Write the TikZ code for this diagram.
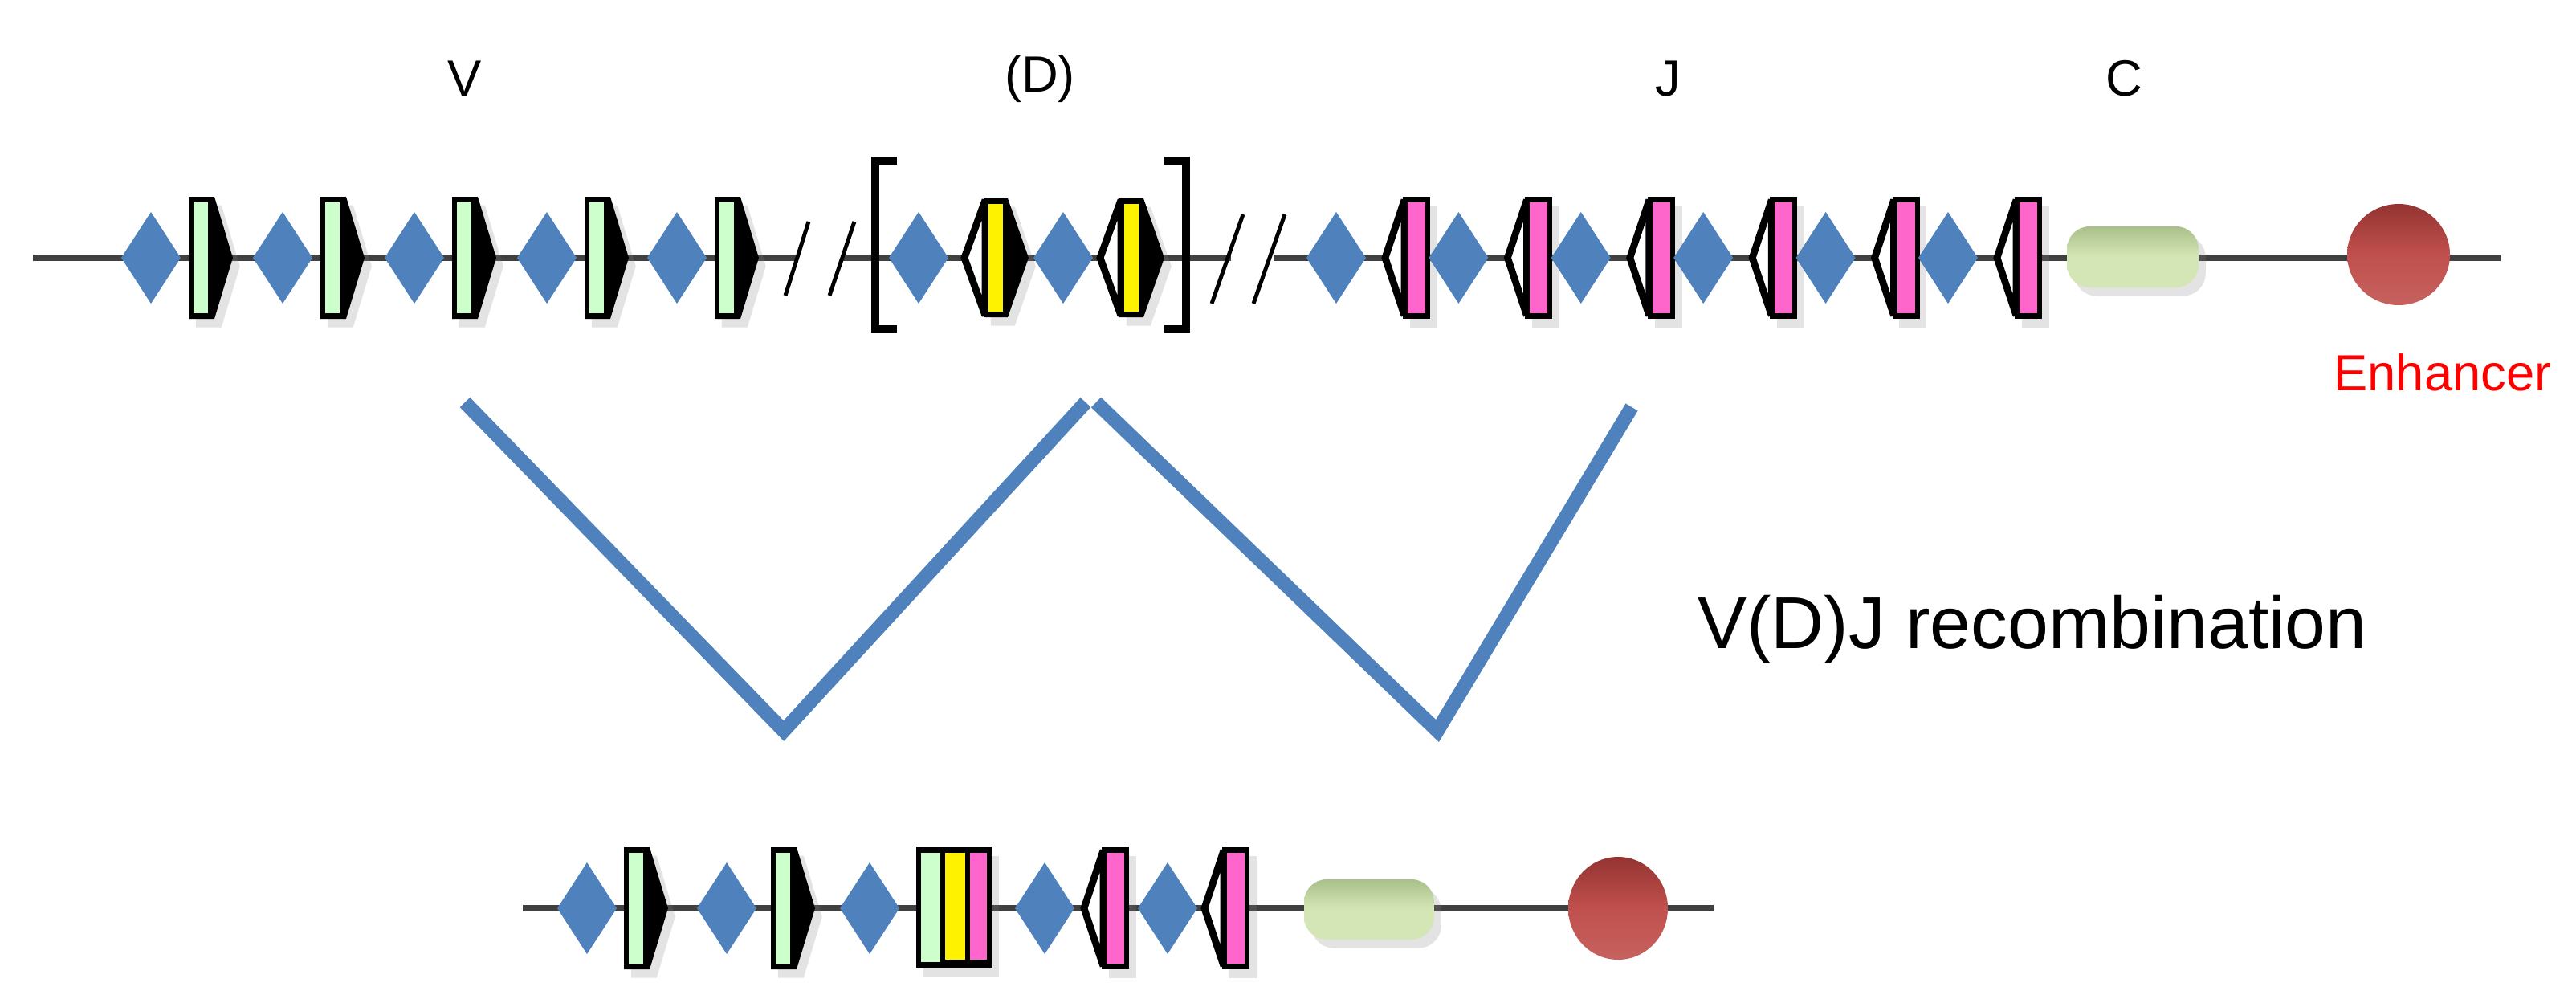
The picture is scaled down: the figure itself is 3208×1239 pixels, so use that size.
\documentclass[tikz,border=0pt]{standalone}
\usepackage{fontspec}
\setmainfont{Liberation Sans}
\usetikzlibrary{shadows}
\definecolor{dblue}{HTML}{4F81BD}
\definecolor{ddblue}{HTML}{2F5B8F}
\definecolor{vgreen}{HTML}{CCFFCC}
\definecolor{cgreen}{HTML}{D4E6B5}
\definecolor{cgreend}{HTML}{A9C08A}
\definecolor{jpink}{HTML}{FF66CC}
\definecolor{enh}{HTML}{C0504D}
\definecolor{enhd}{HTML}{8C2F2D}
\definecolor{vline}{HTML}{4F81BD}
\tikzset{
  x=0.01cm, y=-0.01cm,
  shd/.style={drop shadow={opacity=0.22,shadow xshift=2.5pt,shadow yshift=-3pt}},
  dna/.style={line width=2.5pt, draw=black!75},
  slash/.style={line width=1.4pt, black},
  lbl/.style={font=\fontsize{18}{21}\selectfont},
  diam/.pic={\shade[left color=dblue, middle color=ddblue!80!dblue, right color=dblue]
     (-37,0)--(0,-57)--(37,0)--(0,57)--cycle;},
  vseg/.pic={\fill[black,shd] (0,-76)--(32,-76)--(55,0)--(32,76)--(0,76)--cycle;
     \fill[vgreen] (6,-69) rectangle (24,69);},
  tri/.style={fill=white,draw=black,line width=2.5pt,line join=miter,miter limit=4},
  dseg/.pic={\filldraw[tri] (-24,0)--(2,-72)--(2,72)--cycle;
     \fill[black,shd] (0,-74)--(30,-74)--(56,0)--(30,74)--(0,74)--cycle;
     \fill[yellow] (6,-67) rectangle (24,67);},
  jseg/.pic={\filldraw[tri] (-22,0)--(2,-72)--(2,72)--cycle;
     \fill[black,shd] (0,-76) rectangle (34,76);
     \fill[jpink] (6,-69) rectangle (28,69);},
  enhball/.style={top color=enhd!85!enh, bottom color=enh!90!white, middle color=enh},
}
\begin{document}
\begin{tikzpicture}
\useasboundingbox (0,0) rectangle (3208,1239);
% top DNA line
\draw[dna] (41,321) -- (992,321);
\draw[dna] (1048,321) -- (1533,321);
\draw[dna] (1586,321) -- (3114,321);
\draw[slash] (978,368) -- (1007,276);
\draw[slash] (1033,368) -- (1064,276);
\draw[slash] (1509,378) -- (1548,267);
\draw[slash] (1561,378) -- (1600,267);
% V
\foreach \d in {188,352,516,681,843} \pic at (\d,321) {diam};
\foreach \b in {235,399,563,728,890} \pic at (\b,321) {vseg};
% D
\draw[line width=3pt] (1117,200) -- (1090,200) -- (1090,410) -- (1117,410);
\draw[line width=3pt] (1450,200) -- (1477,200) -- (1477,410) -- (1450,410);
\foreach \d in {1144,1324} \pic at (\d,321) {diam};
\foreach \b in {1225,1394} \pic at (\b,321) {dseg};
% J
\foreach \i in {0,...,5} {
  \pic at ({1664+152.4*\i},321) {diam};
  \pic at ({1747+152.4*\i},321) {jseg};
}
% C and enhancer
\shade[top color=cgreend, bottom color=cgreen, middle color=cgreen, rounded corners=8pt, shd] (2574,282) rectangle (2738,358);
\shade[enhball] (2987,317) ellipse [x radius=64, y radius=63];
% labels
\node[lbl] (lv) at (579,98) {V};
\node[lbl] (ld) at (1295,98) {(D)};
\node[lbl] (lj) at (2077,98) {J};
\node[lbl] (lc) at (2645,98) {C};
\node[lbl, text=red] (le) at (3042,464) {Enhancer};
\node[font=\fontsize{26}{31}\selectfont] (lr) at (2531,784) {V(D)J recombination};
% recombination lines
\coordinate (a1) at (579,501); \coordinate (a2) at (976,910); \coordinate (a3) at (1352,501);
\coordinate (b1) at (1365,501); \coordinate (b2) at (1790,910); \coordinate (b3) at (2032,507);
\draw[vline, line width=5pt] (a1) -- (a2) -- (a3);
\draw[vline, line width=5pt] (b1) -- (b2) -- (b3);
% bottom DNA
\draw[dna] (651,1131) -- (2134,1131);
\foreach \d in {731,905,1083,1301,1454} \pic at (\d,1131) {diam};
\foreach \b in {777,960} \pic at (\b,1131) {vseg};
\fill[black,shd] (1141,1055) rectangle (1235,1205);
\fill[vgreen] (1147,1062) rectangle (1171,1198);
\fill[black] (1171,1055) rectangle (1177,1200);
\fill[yellow] (1177,1062) rectangle (1202,1195);
\fill[black] (1202,1055) rectangle (1208,1200);
\fill[jpink] (1208,1062) rectangle (1229,1195);
\pic at (1372,1131) {jseg};
\pic at (1522,1131) {jseg};
\shade[top color=cgreend, bottom color=cgreen, middle color=cgreen, rounded corners=8pt, shd] (1624,1095) rectangle (1786,1170);
\shade[enhball] (2015,1131) ellipse [x radius=62, y radius=64];
\end{tikzpicture}
\end{document}
